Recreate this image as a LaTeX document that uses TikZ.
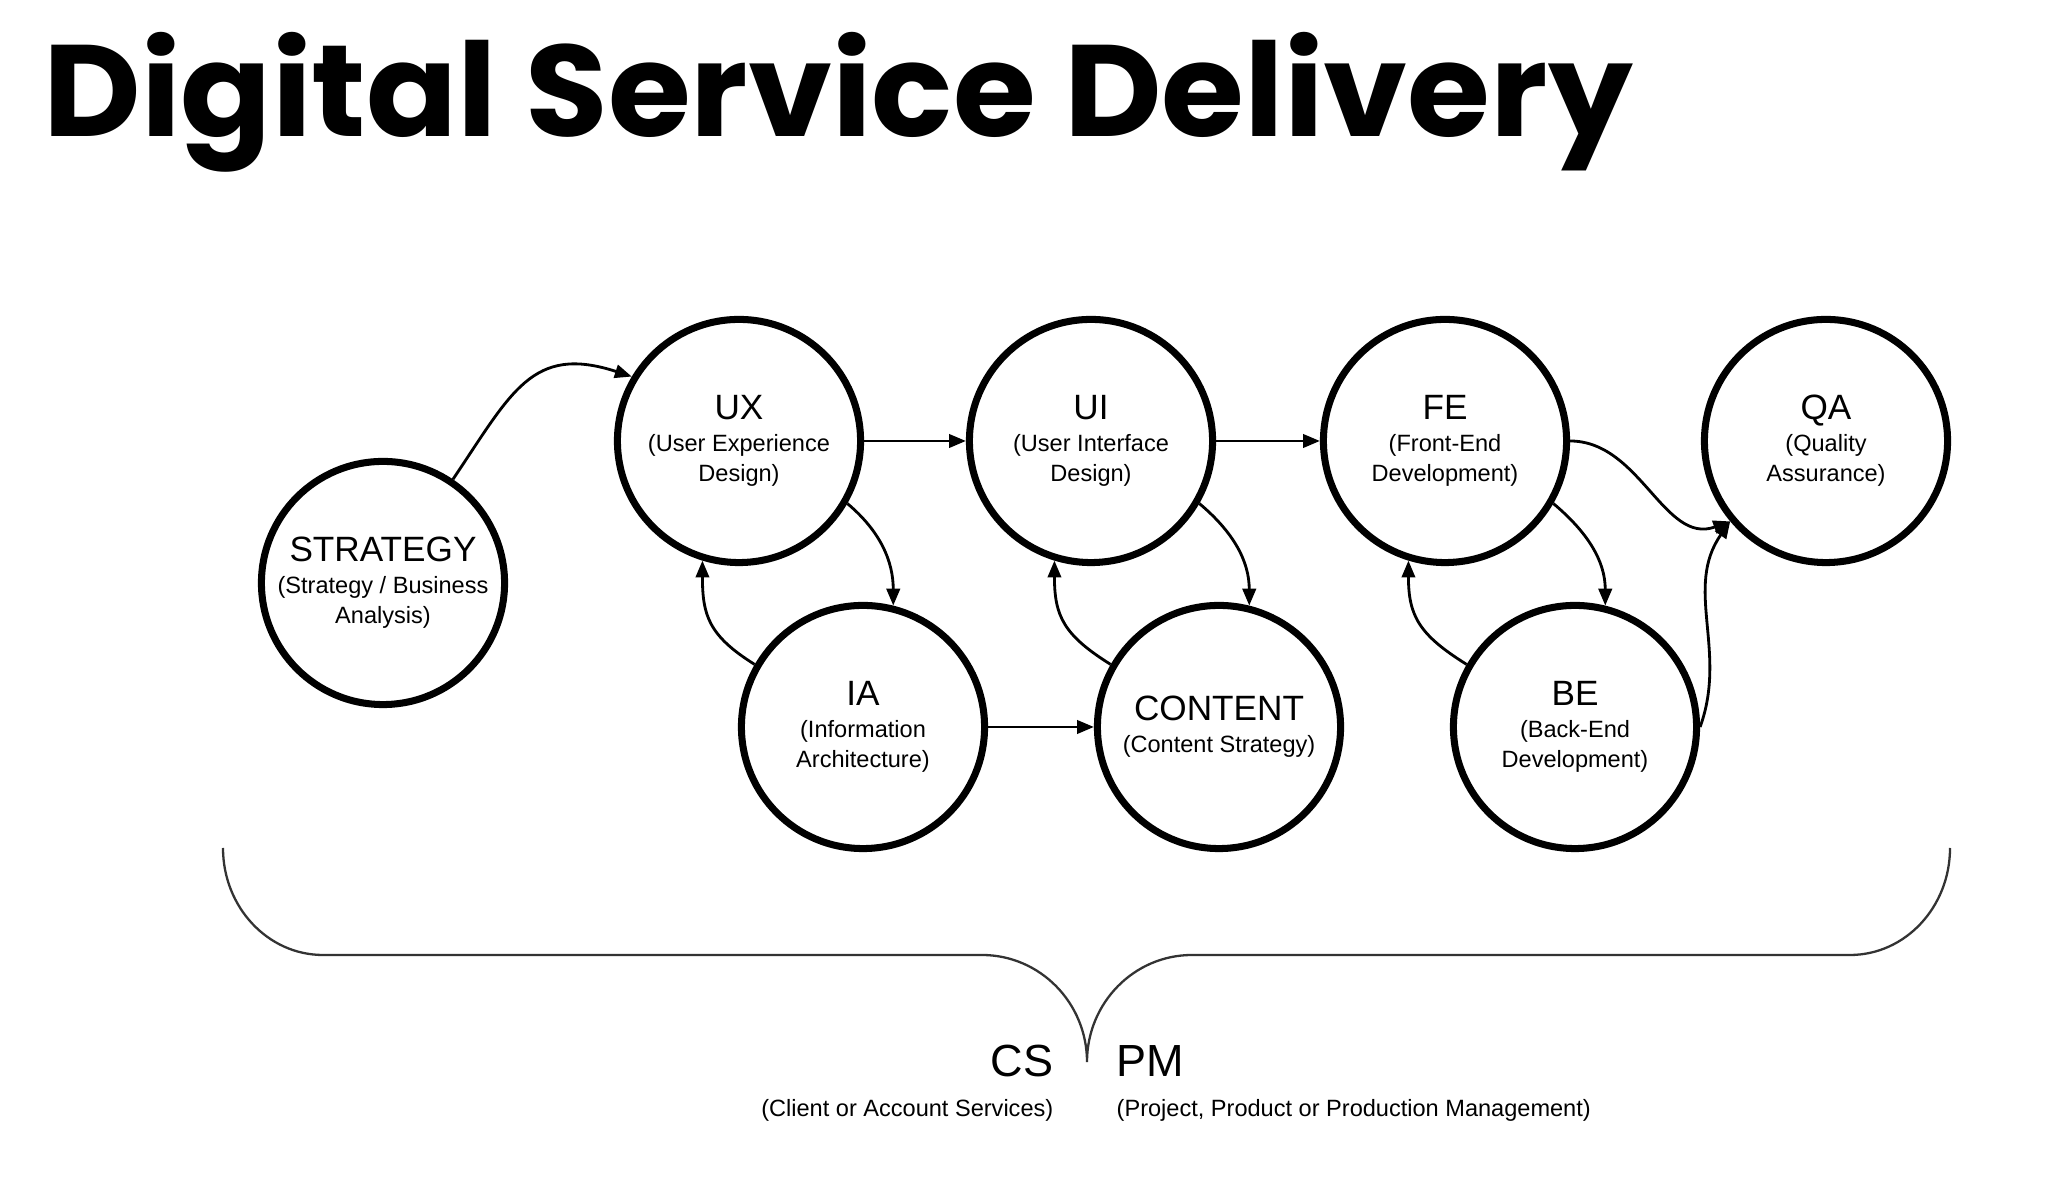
\documentclass[tikz,border=0pt]{standalone}
\usepackage{fontspec}
\setmainfont{Liberation Sans}
\newfontfamily\titlefont{Poppins}
\usepackage{xcolor}
\usepackage{tikz}
\usetikzlibrary{arrows.meta}
\definecolor{bracegray}{HTML}{333333}

\newcommand{\phasetext}[2]{{\fontsize{10pt}{12pt}\selectfont #1}\\[0.4pt]#2}

\begin{document}
\begin{tikzpicture}[x=0.01cm, y=0.01cm,
    phase/.style={draw, circle, line width=2pt, minimum size=2.43cm, inner sep=0pt,
                  align=center, font=\fontsize{6.7pt}{8.6pt}\selectfont},
    flow/.style={line width=0.8pt, -{Triangle[length=4.8pt, width=3.8pt]}},
    note/.style={inner sep=0pt, font=\fontsize{6.7pt}{8pt}\selectfont}]
    \useasboundingbox[fill=white] (0,0) rectangle (2066,1182);
    \node[anchor=base west, inner sep=0pt,
          font=\titlefont\bfseries\fontsize{37pt}{40pt}\selectfont] (title) at (43,1045) {\scalebox{1.032}[1]{Digital Service Delivery}};

    % phases
    \node[phase] (stra) at (383,599) {\phasetext{STRATEGY}{(Strategy / Business\\Analysis)}};
    \node[phase] (ux) at (739,741) {\phasetext{UX}{(User Experience\\Design)}};
    \node[phase] (ui) at (1091,741) {\phasetext{UI}{(User Interface\\Design)}};
    \node[phase] (fe) at (1445,741) {\phasetext{FE}{(Front-End\\Development)}};
    \node[phase] (qa) at (1826,741) {\phasetext{QA}{(Quality\\Assurance)}};
    \node[phase] (ia) at (863,455) {\phasetext{IA}{(Information\\Architecture)}};
    \node[phase] (cont) at (1219,455) {\phasetext{CONTENT}{(Content Strategy)}};
    \node[phase] (be) at (1575,455) {\phasetext{BE}{(Back-End\\Development)}};

    % hand-offs
    \draw[flow] (stra.56) to[out=56, in=162, looseness=1.3] (ux.149);
    \draw[flow] (ux) -- (ui);
    \draw[flow] (ui) -- (fe);
    \draw[flow] (ia) -- (cont);
    \draw[flow] (ux.-30) to[out=-40, in=90] (ia.76);
    \draw[flow] (ia.150) to[out=148, in=-90, looseness=1.2] (ux.-107);
    \draw[flow] (ui.-30) to[out=-40, in=90] (cont.76);
    \draw[flow] (cont.150) to[out=148, in=-90, looseness=1.2] (ui.-107);
    \draw[flow] (fe.-30) to[out=-40, in=90] (be.76);
    \draw[flow] (be.150) to[out=148, in=-90, looseness=1.2] (fe.-107);
    \draw[flow] (fe.0) to[out=0, in=200] (qa.220);
    \draw[flow] (be.0) to[out=70, in=-125] (qa.220);

    % brace
    \draw[bracegray, line width=0.65pt] (223,334)
        arc[start angle=180, end angle=270, x radius=100, y radius=107] -- (982,227)
        arc[start angle=90, end angle=0, x radius=105, y radius=107]
        arc[start angle=180, end angle=90, x radius=105, y radius=107] -- (1850,227)
        arc[start angle=270, end angle=360, x radius=100, y radius=107];

    \node[anchor=base east, inner sep=0pt, font=\fontsize{12.8pt}{14pt}\selectfont] (cs) at (1054,105) {CS};
    \node[note, anchor=base east] (csnote) at (1054,65) {(Client or Account Services)};
    \node[anchor=base west, inner sep=0pt, font=\fontsize{12.8pt}{14pt}\selectfont] (pm) at (1116,105) {PM};
    \node[note, anchor=base west] (pmnote) at (1116,65) {(Project, Product or Production Management)};
\end{tikzpicture}
\end{document}
